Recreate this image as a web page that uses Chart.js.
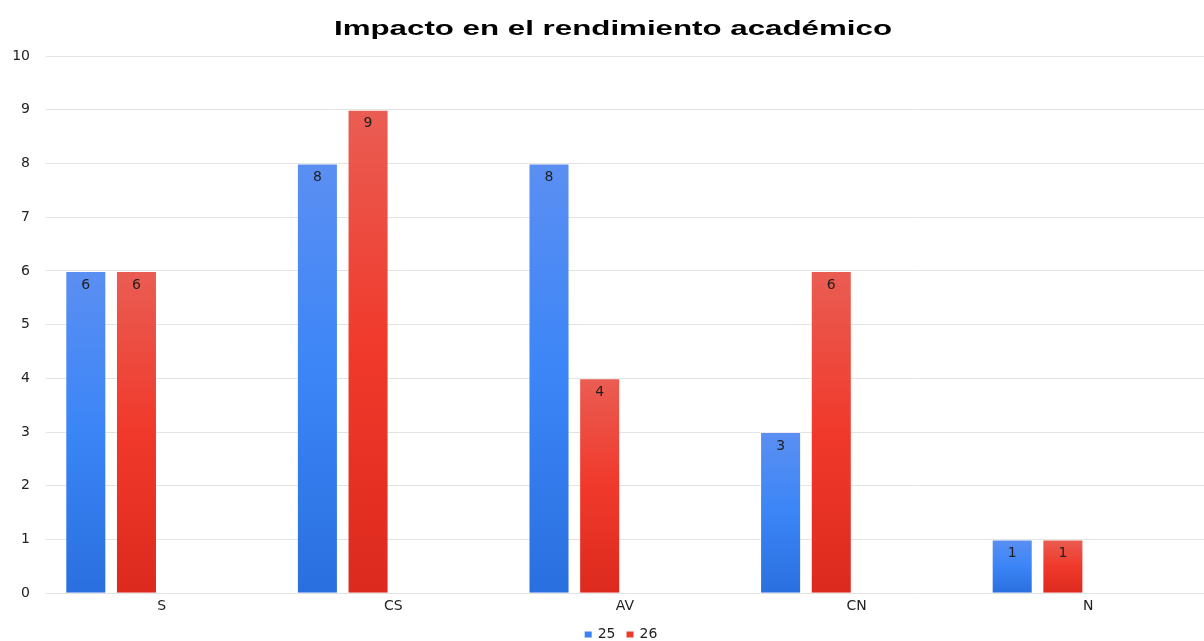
<!DOCTYPE html>
<html>
<head>
<meta charset="utf-8">
<script src="https://cdn.jsdelivr.net/npm/chart.js@4/dist/chart.umd.min.js"></script>
<style>
html,body{margin:0;padding:0;background:#fff;}
#wrap{width:1204px;height:641px;}
</style>
</head>
<body>
<div id="wrap"><canvas id="c" width="1204" height="641"></canvas></div>
<script>
const chartTitle = 'Impacto en el rendimiento académico';
const categories = ['S', 'CS', 'AV', 'CN', 'N'];
const seriesNames = ['25', '26'];
const series25 = [6, 8, 8, 3, 1];
const series26 = [6, 9, 4, 6, 1];
const emptySeries = [null, null, null, null, null];
const yTicks = [0, 1, 2, 3, 4, 5, 6, 7, 8, 9, 10];

const SMALL_FONT = '"DejaVu Sans", "Liberation Sans", Arial, sans-serif';

function barGradient(top, mid, bottom, flat) {
  return function (ctx) {
    const chart = ctx.chart;
    const v = ctx.raw;
    const ys = chart.scales && chart.scales.y;
    if (v == null || !ys || !chart.chartArea) return flat;
    const yTop = ys.getPixelForValue(v);
    const yBase = ys.getPixelForValue(0);
    if (!isFinite(yTop) || !isFinite(yBase) || yTop === yBase) return flat;
    const g = chart.ctx.createLinearGradient(0, yTop, 0, yBase);
    g.addColorStop(0, top);
    g.addColorStop(0.5, mid);
    g.addColorStop(1, bottom);
    return g;
  };
}

const valueLabels = {
  id: 'valueLabels',
  afterDatasetsDraw(chart) {
    const c = chart.ctx;
    c.save();
    c.font = '14px ' + SMALL_FONT;
    c.fillStyle = '#1f1f1f';
    c.textAlign = 'center';
    c.textBaseline = 'top';
    chart.data.datasets.forEach((ds, i) => {
      const meta = chart.getDatasetMeta(i);
      if (meta.hidden) return;
      meta.data.forEach((el, j) => {
        const v = ds.data[j];
        if (v == null) return;
        c.fillText(String(v), el.x, el.y + 7);
      });
    });
    c.restore();
  }
};

// Title (wide bold) and legend, drawn as real canvas text
const titleAndLegend = {
  id: 'titleAndLegend',
  afterDraw(chart) {
    const c = chart.ctx;
    c.save();
    c.font = 'bold 21px "Liberation Sans", Arial, sans-serif';
    c.fillStyle = '#000';
    c.textAlign = 'center';
    c.textBaseline = 'alphabetic';
    const tw = c.measureText(chartTitle).width;
    const sx = 558 / tw;
    c.translate(613, 35);
    c.scale(sx, 1);
    c.fillText(chartTitle, 0, 0);
    c.setTransform(1, 0, 0, 1, 0, 0);
    c.font = '14px ' + SMALL_FONT;
    c.textAlign = 'left';
    c.textBaseline = 'middle';
    const items = chart.data.datasets.filter(d => d.label);
    const box = 7, gapBox = 6, gapItem = 11;
    const widths = items.map(d => box + gapBox + c.measureText(d.label).width);
    const total = widths.reduce((a, b) => a + b, 0) + gapItem * (items.length - 1);
    let x = 621 - total / 2;
    const cy = 634.5;
    items.forEach((d, i) => {
      c.fillStyle = d.legendColor;
      c.fillRect(x, cy - 3, box, 6);
      c.fillStyle = '#222';
      c.fillText(d.label, x + box + gapBox, cy);
      x += widths[i] + gapItem;
    });
    c.restore();
  }
};

new Chart(document.getElementById('c'), {
  type: 'bar',
  data: {
    labels: categories,
    datasets: [
      {
        label: seriesNames[0],
        data: series25,
        backgroundColor: barGradient('#5b8ff2', '#3b85f7', '#2a6fdf', '#3b85f7'),
        legendColor: '#3b80f0',
        borderColor: 'rgba(255,255,255,0.35)',
        borderWidth: 1
      },
      {
        label: seriesNames[1],
        data: series26,
        backgroundColor: barGradient('#ea5d53', '#f0392b', '#dc2a1e', '#f0392b'),
        legendColor: '#ea3c30',
        borderColor: 'rgba(255,255,255,0.35)',
        borderWidth: 1
      },
      { label: '', data: emptySeries, backgroundColor: 'rgba(0,0,0,0)' },
      { label: '', data: emptySeries, backgroundColor: 'rgba(0,0,0,0)' }
    ]
  },
  options: {
    responsive: false,
    animation: false,
    devicePixelRatio: 1,
    layout: { padding: { left: 0, right: 0, top: 56, bottom: 21 } },
    datasets: { bar: { categoryPercentage: 0.875, barPercentage: 0.81 } },
    plugins: {
      title: { display: false },
      legend: { display: false },
      tooltip: { enabled: false }
    },
    scales: {
      x: {
        grid: { display: false, drawTicks: false },
        border: { display: false },
        ticks: {
          color: '#222',
          font: { family: SMALL_FONT, size: 14 },
          padding: 5
        }
      },
      y: {
        min: 0,
        max: 10,
        afterBuildTicks(axis) { axis.ticks = yTicks.map(v => ({ value: v })); },
        afterFit(scale) { scale.width = 46; },
        grid: { color: '#e3e3e3', lineWidth: 1, drawTicks: false },
        border: { display: false },
        ticks: {
          color: '#222',
          font: { family: SMALL_FONT, size: 14 },
          padding: 16
        }
      }
    }
  },
  plugins: [valueLabels, titleAndLegend]
});
</script>
</body>
</html>
